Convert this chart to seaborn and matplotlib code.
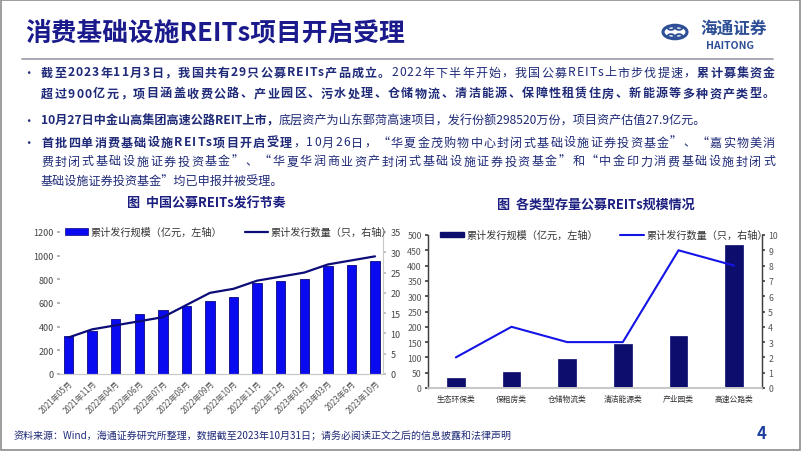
import numpy as np
import pandas as pd
import seaborn as sns
import matplotlib.pyplot as plt
from matplotlib.patches import Patch, Rectangle, Circle
from matplotlib.lines import Line2D

# ───────────────────────
# data
# ───────────────────────
dates = ["2021年05月", "2021年11月", "2022年04月", "2022年06月", "2022年07月",
         "2022年08月", "2022年09月", "2022年10月", "2022年11月", "2022年12月",
         "2023年01月", "2023年03月", "2023年6月", "2023年10月"]
issue_scale = [318, 366, 462, 507, 544, 578, 617, 648, 772, 783, 802, 910, 923, 956]
issue_count = [9, 11, 12, 13, 14, 17, 20, 21, 23, 24, 25, 27, 28, 29]

types = ["生态环保类", "保租房类", "仓储物流类", "清洁能源类", "产业园类", "高速公路类"]
type_scale = [33, 52, 95, 145, 170, 468]
type_count = [2, 4, 3, 3, 9, 8]

left_yticks = [0, 200, 400, 600, 800, 1000, 1200]
left_y2ticks = [0, 5, 10, 15, 20, 25, 30, 35]
right_yticks = [0, 50, 100, 150, 200, 250, 300, 350, 400, 450, 500]
right_y2ticks = list(range(0, 11))

legend_scale = "累计发行规模（亿元，左轴）"
legend_count = "累计发行数量（只，右轴）"

title = "消费基础设施REITs项目开启受理"
bullets = [
    [("截至2023年11月3日，我国共有29只公募REITs产品成立。", True),
     ("2022年下半年开始，我国公募REITs上市步伐提速，", False),
     ("累计募集资金", True)],
    [("超过900亿元，项目涵盖收费公路、产业园区、污水处理、仓储物流、清洁能源、保障性租赁住房、新能源等多种资产类型。", True)],
    [("10月27日中金山高集团高速公路REIT上市，", True),
     ("底层资产为山东鄄菏高速项目，发行份额298520万份，项目资产估值27.9亿元。", False)],
    [("首批四单消费基础设施REITs项目开启受理", True),
     ("，10月26日，“华夏金茂购物中心封闭式基础设施证券投资基金”、“嘉实物美消", False)],
    [("费封闭式基础设施证券投资基金”、“华夏华润商业资产封闭式基础设施证券投资基金”和“中金印力消费基础设施封闭式", False)],
    [("基础设施证券投资基金”均已申报并被受理。", False)],
]
bullet_marks = [True, False, True, True, False, False]
justify = [True, True, False, True, True, False]
footer = "资料来源：Wind，海通证券研究所整理，数据截至2023年10月31日；请务必阅读正文之后的信息披露和法律声明"

df_left = pd.DataFrame({"date": dates, "scale": issue_scale, "count": issue_count,
                        "pos": np.arange(len(dates))})
df_right = pd.DataFrame({"type": types, "scale": type_scale, "count": type_count,
                         "pos": np.arange(len(types))})

# ───────────────────────
# style
# ───────────────────────
sns.set_theme(style="white")
plt.rcParams["font.family"] = ["Noto Sans CJK SC", "DejaVu Sans"]
plt.rcParams["axes.unicode_minus"] = False

W, H = 802, 452
fig = plt.figure(figsize=(W / 100, H / 100), dpi=100)
fig.patch.set_facecolor("white")

NAVY = "#1c1f80"
TXT = "#1f2a78"


def fx(px):
    return px / W


def fy(py):
    return 1 - py / H


def ax_rect(l, t, r, b):
    return [fx(l), fy(b), fx(r) - fx(l), (b - t) / H]


# frame + header rule
fig.patches.append(Rectangle((0.001, 0.002), 0.997, 0.996, transform=fig.transFigure,
                             fill=False, edgecolor="#8c8c8c", linewidth=1.2))
fig.add_artist(Line2D([fx(22), fx(773)], [fy(60), fy(60)], color="#9a9aa8", linewidth=1.2))

# title
fig.text(fx(25), fy(33), title, fontsize=18.5, fontweight="bold", color="#1a1a8c",
         va="center", ha="left")

# logo
fig.patches.append(Circle((fx(675), fy(33)), 12 / W, transform=fig.transFigure,
                          fill=False, edgecolor="#2d4f96", linewidth=2.2))
for dx, dy in [(-4, -4), (4, -4), (-4, 4), (4, 4)]:
    fig.patches.append(Circle((fx(675 + dx), fy(33 + dy)), 3.2 / W, transform=fig.transFigure,
                              fill=False, edgecolor="#2d4f96", linewidth=1.4))
fig.text(fx(700), fy(29), "海通证券", fontsize=12, fontweight="bold", color="#2d4f96",
         va="center", ha="left", fontstyle="italic")
fig.text(fx(730), fy(46), "HAITONG", fontsize=7.5, fontweight="bold", color="#2d4f96",
         va="center", ha="center")

# bullets with mixed bold runs, some lines justified to the right margin
renderer = fig.canvas.get_renderer()
BFS = 8.7
x0, x_right = 41, 775


def char_width(ch, bold):
    t = fig.text(0, 0, ch, fontsize=BFS, fontweight="bold" if bold else "normal")
    w = t.get_window_extent(renderer).width
    t.remove()
    return w


line_y = [73, 94, 121, 143, 162, 181]
for runs, y, mark, just in zip(bullets, line_y, bullet_marks, justify):
    if mark:
        fig.text(fx(22), fy(y), "•", fontsize=9, color=TXT, va="center", ha="left")
    if just:
        chars = [(c, b) for s, b in runs for c in s]
        widths = [char_width(c, b) for c, b in chars]
        gap = (x_right - x0 - sum(widths)) / max(len(chars) - 1, 1)
        x = x0
        for (c, b), w in zip(chars, widths):
            fig.text(fx(x), fy(y), c, fontsize=BFS, color=TXT, va="center", ha="left",
                     fontweight="bold" if b else "normal")
            x += w + gap
    else:
        x = x0
        for s, bold in runs:
            t = fig.text(fx(x), fy(y), s, fontsize=BFS, color=TXT, va="center", ha="left",
                         fontweight="bold" if bold else "normal")
            x += t.get_window_extent(renderer).width

# footer
fig.text(fx(14), fy(436), footer, fontsize=7.2, color=TXT, va="center", ha="left")
fig.text(fx(762), fy(434), "4", fontsize=12, fontweight="bold", color="#1f3f9f",
         va="center", ha="center")

# ───────────────────────
# left chart
# ───────────────────────
fig.text(fx(206), fy(204), "图  中国公募REITs发行节奏", fontsize=9.4, fontweight="bold",
         color=NAVY, va="center", ha="center")

ax1 = fig.add_axes(ax_rect(60, 233, 383, 375))
sns.barplot(data=df_left, x="date", y="scale", ax=ax1, color="#0a0af0", width=0.4,
            edgecolor="#08087a", linewidth=0.6, saturation=1)
ax2 = ax1.twinx()
sns.lineplot(data=df_left, x="pos", y="count", ax=ax2, color="#0c0c78", linewidth=1.6)
ax1.set_xlim(-0.36, len(dates) - 1 + 0.34)
ax1.set_ylim(0, 1200)
ax1.set_yticks(left_yticks)
ax2.set_ylim(0, 35)
ax2.set_yticks(left_y2ticks)
ax1.set_xlabel("")
ax1.set_ylabel("")
ax2.set_ylabel("")
ax1.set_xticks(df_left["pos"])
ax1.set_xticklabels(dates, rotation=45, ha="right", rotation_mode="anchor",
                    fontsize=5.8, color="#555555")
ax1.tick_params(axis="y", labelsize=6.5, labelcolor="#444444", length=2.5, color="#aaaaaa",
                pad=2, left=True)
ax1.tick_params(axis="x", length=0, pad=3)
ax2.tick_params(axis="y", labelsize=6.5, labelcolor="#444444", length=2.5, color="#bbbbbb",
                pad=3, right=True)
for a in (ax1, ax2):
    a.spines["top"].set_visible(False)
    for sp in ["left", "bottom", "right"]:
        a.spines[sp].set_color("#c8c8c8")
        a.spines[sp].set_linewidth(0.8)
ax1.spines["left"].set_visible(False)
ax2.spines["left"].set_visible(False)
ax1.spines["right"].set_visible(False)

handles = [Patch(facecolor="#0a0af0", edgecolor="#08087a", linewidth=0.5),
           Line2D([0], [0], color="#0c0c78", linewidth=1.6)]
ax2.legend(handles, [legend_scale, legend_count], loc="center left",
           bbox_to_anchor=(0.015, 1.0), ncol=2, frameon=False, fontsize=7.3,
           handlelength=2.3, handleheight=0.55, handletextpad=0.2, columnspacing=2.3,
           labelcolor="#333333", borderaxespad=0, borderpad=0)

# ───────────────────────
# right chart
# ───────────────────────
fig.text(fx(596), fy(205), "图  各类型存量公募REITs规模情况", fontsize=9.4, fontweight="bold",
         color=NAVY, va="center", ha="center")

ax3 = fig.add_axes(ax_rect(428, 236, 762, 389))
sns.barplot(data=df_right, x="type", y="scale", ax=ax3, color="#0d0d6e", width=0.32,
            edgecolor="#0d0d6e", linewidth=0.5, saturation=1)
ax4 = ax3.twinx()
sns.lineplot(data=df_right, x="pos", y="count", ax=ax4, color="#1414e6", linewidth=1.5)
ax3.set_xlim(-0.5, len(types) - 0.5)
ax3.set_ylim(0, 500)
ax3.set_yticks(right_yticks)
ax4.set_ylim(0, 10)
ax4.set_yticks(right_y2ticks)
ax3.set_xlabel("")
ax3.set_ylabel("")
ax4.set_ylabel("")
ax3.set_xticks(df_right["pos"])
ax3.set_xticklabels(types, fontsize=5.6, color="#333333")
ax3.tick_params(axis="x", length=0, pad=5)
ax3.tick_params(axis="y", labelsize=6.3, labelcolor="#555555", length=2.5, color="#444444",
                pad=2, left=True)
ax4.tick_params(axis="y", labelsize=6.3, labelcolor="#555555", length=2.5, color="#444444",
                pad=2, right=True)
for a in (ax3, ax4):
    a.spines["top"].set_visible(False)
    a.spines["bottom"].set_color("#c8c8c8")
    a.spines["left"].set_color("#404040")
    a.spines["right"].set_color("#404040")
    a.spines["left"].set_linewidth(0.9)
    a.spines["right"].set_linewidth(0.9)

handles = [Patch(facecolor="#0d0d6e", edgecolor="#0d0d6e"),
           Line2D([0], [0], color="#1414e6", linewidth=1.5)]
ax4.legend(handles, [legend_scale, legend_count], loc="center left",
           bbox_to_anchor=(0.035, 1.0), ncol=2, frameon=False, fontsize=7.3,
           handlelength=2.4, handleheight=0.5, handletextpad=0.2, columnspacing=2.2,
           labelcolor="#333333", borderaxespad=0, borderpad=0)

fig.savefig("out.png", dpi=100)
